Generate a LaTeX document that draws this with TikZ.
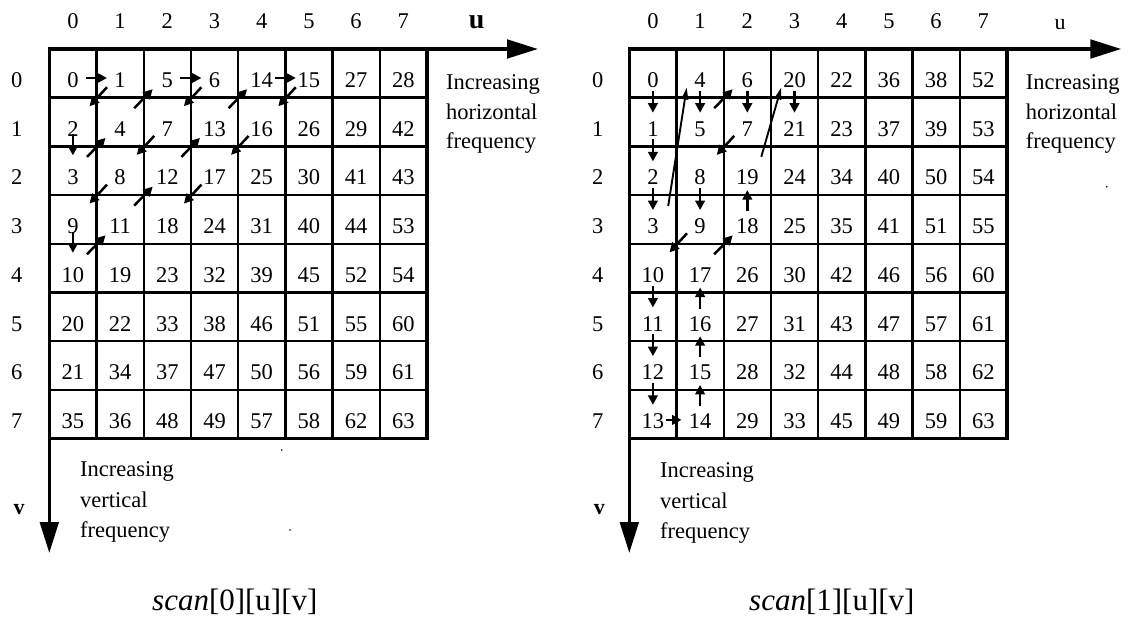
\documentclass[tikz,border=0pt]{standalone}
\usepackage{fontspec}
\setmainfont{Liberation Serif}
\usetikzlibrary{arrows.meta,calc}

\newcommand\scangrid[4]{%
  \foreach \k in {0,...,8}{\foreach \j in {0,...,8}{\coordinate (#1C-\k-\j) at ({#2+47.2*\k},{49+48.7*\j});}}
  \foreach \k in {1,...,7}{\draw[gridinner] (#1C-\k-0) -- (#1C-\k-8); \draw[gridinner] (#1C-0-\k) -- (#1C-8-\k);}
  \draw[gridouter] (#1C-0-0) rectangle (#1C-8-8);
  \foreach \row [count=\ri from 0] in {#4}{%
    \foreach \n [count=\ci from 0] in \row {\node[num] (#1-\ri-\ci) at ({#2+23.6+47.2*\ci},{87.5+48.7*\ri}) {\n};}}
  \foreach \ci in {0,...,7}{\node[num] (#1H-\ci) at ({#2+23.6+47.2*\ci},28.5) {\ci};}
  \foreach \ri in {0,...,7}{\node[num] (#1V-\ri) at ({#3},{87.5+48.7*\ri}) {\ri};}
}
\newcommand\scanarr[5]{\draw[sa] ($(#1)+(#2,#3)$) -- ($(#1)+(#4,#5)$);}

\begin{document}
\begin{tikzpicture}[x=1pt,y=-1pt,
  num/.style={anchor=base,inner sep=0pt,font=\fontsize{22.5}{26}\selectfont},
  lbl/.style={anchor=base west,inner sep=0pt,font=\fontsize{22.5}{28}\selectfont},
  title/.style={anchor=base west,inner sep=0pt,font=\fontsize{31}{34}\selectfont},
  gridouter/.style={line width=3.3pt,line cap=rect},
  gridinner/.style={line width=2.4pt},
  axis/.style={line width=3.5pt,-{Triangle[length=31pt,width=18.5pt]}},
  sa/.style={line width=2.5pt,-{Triangle[length=9.5pt,width=9.5pt]}},
  la/.style={line width=1.9pt,-{Triangle[length=12pt,width=6.5pt]}},
]
\useasboundingbox (0,0) rectangle (1134,620);

% ---------------- left grid: scan[0]
\scangrid{L}{49.3}{16.7}{{0,1,5,6,14,15,27,28},{2,4,7,13,16,26,29,42},{3,8,12,17,25,30,41,43},{9,11,18,24,31,40,44,53},{10,19,23,32,39,45,52,54},{20,22,33,38,46,51,55,60},{21,34,37,47,50,56,59,61},{35,36,48,49,57,58,62,63}}
\coordinate (LuEnd) at (538,49);
\coordinate (LvEnd) at (49.3,553);
\draw[axis] (LC-0-0) -- (LuEnd);
\draw[axis] (LC-0-0) -- (LvEnd);
\node[anchor=base,inner sep=0pt,font=\fontsize{28}{30}\selectfont\bfseries] (Lu) at (476.7,28.3) {u};
\node[anchor=base,inner sep=0pt,font=\fontsize{22}{26}\selectfont\bfseries] (Lv) at (19,514) {v};
\node[lbl] (Lh1) at (446,89.3) {Increasing};
\node[lbl] (Lh2) at (446,119.5) {horizontal};
\node[lbl] (Lh3) at (446,149) {frequency};
\node[lbl] (Lf1) at (80,476.5) {Increasing};
\node[lbl] (Lf2) at (80,507.5) {vertical};
\node[lbl] (Lf3) at (80,537.5) {frequency};
\node[title] (Ltitle) at (152,610) {\textit{scan}[0][u][v]};
% horizontal arrows
\scanarr{LC-1-0}{-10.5}{29}{10.5}{29}
\scanarr{LC-3-0}{-10.5}{29}{10.5}{29}
\scanarr{LC-5-0}{-10.5}{29}{10.5}{29}
% down arrows
\scanarr{LC-0-2}{23.6}{-12}{23.6}{9}
\scanarr{LC-0-4}{23.6}{-12}{23.6}{9}
% down-left diagonals
\foreach \k/\j in {1/1,3/1,2/2,1/3,5/1,4/2,3/3}{\scanarr{LC-\k-\j}{10.5}{-10.5}{-7}{8.5}}
% up-right diagonals
\foreach \k/\j in {1/2,2/1,1/4,2/3,3/2,4/1}{\scanarr{LC-\k-\j}{-9.5}{10.5}{9}{-8.5}}
\fill (281.8,450) circle (0.9);
\fill (290,530) circle (0.9);

% ---------------- right grid: scan[1]
\scangrid{R}{629.3}{597.7}{{0,4,6,20,22,36,38,52},{1,5,7,21,23,37,39,53},{2,8,19,24,34,40,50,54},{3,9,18,25,35,41,51,55},{10,17,26,30,42,46,56,60},{11,16,27,31,43,47,57,61},{12,15,28,32,44,48,58,62},{13,14,29,33,45,49,59,63}}
\coordinate (RuEnd) at (1121.3,49);
\coordinate (RvEnd) at (629.3,553);
\draw[axis] (RC-0-0) -- (RuEnd);
\draw[axis] (RC-0-0) -- (RvEnd);
\node[anchor=base,inner sep=0pt,font=\fontsize{22}{26}\selectfont] (Ru) at (1060,29.3) {u};
\node[anchor=base,inner sep=0pt,font=\fontsize{22}{26}\selectfont\bfseries] (Rv) at (599.3,514) {v};
\node[lbl] (Rh1) at (1025.7,89.3) {Increasing};
\node[lbl] (Rh2) at (1025.7,119.5) {horizontal};
\node[lbl] (Rh3) at (1025.7,149) {frequency};
\node[lbl] (Rf1) at (660,477) {Increasing};
\node[lbl] (Rf2) at (660,508) {vertical};
\node[lbl] (Rf3) at (660,538) {frequency};
\node[title] (Rtitle) at (749,610) {\textit{scan}[1][u][v]};
% down arrows
\foreach \k/\j in {0/1,0/2,0/3,1/1,2/1,1/3,0/5,0/6,0/7,3/1}{\scanarr{RC-\k-\j}{23.6}{-7}{23.6}{15}}
% up arrows
\foreach \k/\j in {1/7,1/6,1/5,2/3}{\scanarr{RC-\k-\j}{23.6}{16}{23.6}{-5}}
% horizontal arrow 13 -> 14
\scanarr{RC-1-7}{-10.5}{30}{5}{30}
% up-right diagonals
\foreach \k/\j in {2/1,2/4}{\scanarr{RC-\k-\j}{-9.5}{10.5}{9}{-8.5}}
% down-left diagonals
\foreach \k/\j in {2/2,1/4}{\scanarr{RC-\k-\j}{10.5}{-10.5}{-7}{8.5}}
% long arrows 3 -> 4 and 19 -> 20
\coordinate (R3tail) at (668.2,206);
\coordinate (R4tip) at (686.7,87.5);
\coordinate (R19tail) at (761.3,156.7);
\coordinate (R20tip) at (781.2,87.5);
\draw[la] (R3tail) -- (R4tip);
\draw[la] (R19tail) -- (R20tip);
\fill (1106.7,186.7) circle (0.9);
\end{tikzpicture}
\end{document}
